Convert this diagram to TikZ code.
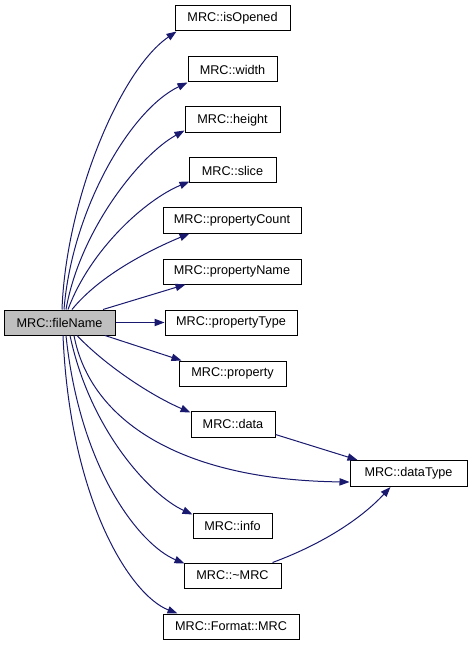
\documentclass[tikz,border=0pt]{standalone}
\usepackage{fontspec}
\setmainfont{Liberation Sans}
\usetikzlibrary{arrows.meta,calc}
\definecolor{edgeblue}{HTML}{191970}
\definecolor{boxgray}{HTML}{BFBFBF}
\begin{document}
\begin{tikzpicture}[x=0.75pt,y=-0.75pt,
  box/.style={draw=black,line width=0.75pt,fill=white,inner sep=0pt,
    minimum height=25*0.75pt,font=\fontsize{9.5}{11}\selectfont},
  edge/.style={draw=edgeblue,line width=0.75pt,-{Triangle[length=7.5pt,width=5.5pt]}}]
\useasboundingbox (0,0) rectangle (468,645);
\fill[white] (0,0) rectangle (468,645);
% nodes
\node[box,fill=boxgray,minimum width=111*0.75pt] (fn) at (59.5,322.5) {MRC::fileName};
\node[box,minimum width=115*0.75pt] (isOpened) at (232.5,18.5) {MRC::isOpened};
\node[box,minimum width=89*0.75pt] (width) at (232.5,69.5) {MRC::width};
\node[box,minimum width=95*0.75pt,minimum height=26*0.75pt] (height) at (232.5,120) {MRC::height};
\node[box,minimum width=87*0.75pt] (slice) at (232.5,170.5) {MRC::slice};
\node[box,minimum width=138*0.75pt] (pcount) at (232,220.5) {MRC::propertyCount};
\node[box,minimum width=138*0.75pt] (pname) at (232,271.5) {MRC::propertyName};
\node[box,minimum width=132*0.75pt] (ptype) at (231,322.5) {MRC::propertyType};
\node[box,minimum width=107*0.75pt] (prop) at (232.5,373.5) {MRC::property};
\node[box,minimum width=84*0.75pt,minimum height=26*0.75pt] (data) at (233,424) {MRC::data};
\node[box,minimum width=117*0.75pt,minimum height=26*0.75pt] (dtype) at (408.5,473.5) {MRC::dataType};
\node[box,minimum width=79*0.75pt] (info) at (232.5,525.5) {MRC::info};
\node[box,minimum width=97*0.75pt] (dtor) at (232.5,575.5) {MRC::\textasciitilde MRC};
\node[box,minimum width=136*0.75pt] (fmt) at (231,626.5) {MRC::Format::MRC};
% edges from fileName (upwards)
\draw[edge] ($(fn.north)+(2.5,0)$) .. controls (66,200) and (120,70) .. ($(isOpened.south west)+(2,0)$);
\draw[edge] ($(fn.north)+(4.5,0)$) .. controls (72,210) and (130,110) .. (width.south west);
\draw[edge] ($(fn.north)+(6.5,0)$) .. controls (80,230) and (140,155) .. ($(height.south west)+(0,-3)$);
\draw[edge] ($(fn.north)+(8.5,0)$) .. controls (90,250) and (145,200) .. ($(slice.south west)+(1,-2)$);
\draw[edge] ($(fn.north)+(12.5,0)$) .. controls (100,275) and (150,250) .. ($(pcount.south west)+(27,0)$);
\draw[edge] ($(fn.north)+(43.5,0)$) -- ($(pname.south west)+(23,0)$);
\draw[edge] (fn.east) -- (ptype.west);
% edges from fileName (downwards)
\draw[edge] ($(fn.south)+(45.5,0)$) -- ($(prop.north west)+(3,0)$);
\draw[edge] ($(fn.south)+(17.5,0)$) .. controls (105,365) and (150,395) .. ($(data.north west)+(0,2)$);
\draw[edge] ($(fn.south)+(14.5,0)$) .. controls (90,420) and (180,480) .. ($(dtype.west)+(0,8.5)$);
\draw[edge] ($(fn.south)+(10.5,0)$) .. controls (90,430) and (150,495) .. ($(info.north west)+(0,2)$);
\draw[edge] ($(fn.south)+(6.5,0)$) .. controls (80,470) and (140,545) .. ($(dtor.north west)+(1,1)$);
\draw[edge] ($(fn.south)+(3.5,0)$) .. controls (70,500) and (130,595) .. ($(fmt.north west)+(15,0)$);
% edges to dataType
\draw[edge] ($(data.south east)+(0,-3)$) -- ($(dtype.north west)+(8,0)$);
\draw[edge] ($(dtor.north east)+(-9,0)$) .. controls (320,545) and (360,520) .. ($(dtype.south)+(-18,0)$);
\end{tikzpicture}
\end{document}
